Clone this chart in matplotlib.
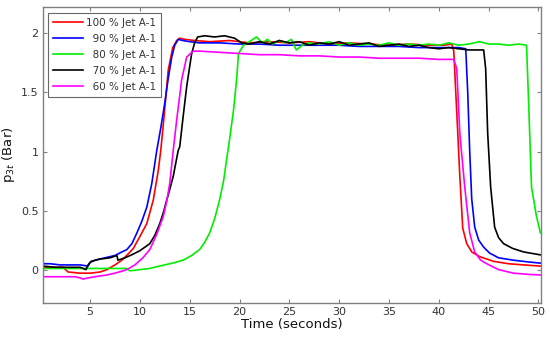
import matplotlib
matplotlib.use("Agg")
import matplotlib.pyplot as plt

# ---------------- data ----------------
labels = ["100 % Jet A-1", "90 % Jet A-1", "80 % Jet A-1", "70 % Jet A-1", "60 % Jet A-1"]
colors = ["#ff0000", "#0000ff", "#00ee00", "#000000", "#ff00ff"]

t_100 = [0.3, 1.5, 2.3, 2.8, 4.0, 5.0, 6.0, 6.7, 7.5, 8.2, 8.8, 9.35, 10.0, 10.7, 11.35, 11.85,
         12.1, 12.4, 12.85, 13.3, 13.7, 14.0, 14.5, 15.5, 17, 19, 21, 23, 25, 27, 29, 31, 33, 35,
         37, 39, 40.5, 41.3, 41.5, 41.7, 41.9, 42.1, 42.4, 42.8, 43.3, 44.1, 45.5, 47, 48.5, 50.2]
p_100 = [0.02, 0.02, 0.02, -0.02, -0.03, -0.03, -0.02, 0.0, 0.04, 0.08, 0.13, 0.18, 0.28, 0.39,
         0.59, 0.84, 1.01, 1.27, 1.69, 1.88, 1.94, 1.96, 1.95, 1.94, 1.93, 1.94, 1.92, 1.93, 1.92,
         1.93, 1.91, 1.92, 1.91, 1.90, 1.91, 1.90, 1.90, 1.91, 1.85, 1.50, 1.16, 0.80, 0.35, 0.22,
         0.15, 0.11, 0.07, 0.05, 0.04, 0.03]

t_90 = [0.3, 1.0, 2.0, 3.0, 4.0, 4.8, 5.0, 5.5, 6.5, 7.5, 8.2, 8.7, 9.2, 9.7, 10.2, 10.7, 11.2,
        11.7, 12.1, 12.5, 12.85, 13.2, 13.5, 13.85, 14.3, 15, 16, 18, 20, 22, 24, 26, 28, 30, 32,
        34, 36, 38, 40, 42, 42.7, 42.9, 43.1, 43.3, 43.6, 44.0, 44.5, 45.1, 46, 47.5, 49, 50.2]
p_90 = [0.05, 0.05, 0.04, 0.04, 0.04, 0.03, 0.06, 0.08, 0.10, 0.12, 0.15, 0.17, 0.22, 0.31, 0.41,
        0.53, 0.73, 1.01, 1.20, 1.41, 1.62, 1.80, 1.90, 1.95, 1.94, 1.93, 1.92, 1.92, 1.91, 1.91,
        1.90, 1.90, 1.90, 1.90, 1.89, 1.89, 1.89, 1.88, 1.88, 1.88, 1.87, 1.50, 1.00, 0.60, 0.36,
        0.25, 0.19, 0.14, 0.10, 0.08, 0.065, 0.055]

t_80 = [0.3, 2, 4, 6, 8, 8.7, 9.0, 10, 11, 11.7, 12.5, 13.5, 14.35, 15.2, 16, 16.5, 17, 17.5, 18,
        18.4, 18.7, 19.0, 19.4, 19.7, 19.9, 20.4, 21.0, 21.7, 22.3, 22.8, 23.3, 24, 24.6, 25.2,
        25.7, 26.3, 27, 28, 29, 30, 31, 32, 33, 34, 35, 36, 37, 38, 39, 40, 41, 42, 43, 44.1, 45,
        46, 47, 48, 48.8, 49.0, 49.3, 49.8, 50.2]
p_80 = [0.01, 0.01, 0.01, 0.01, 0.01, 0.01, -0.01, 0.0, 0.01, 0.025, 0.04, 0.06, 0.08, 0.12, 0.17,
        0.23, 0.31, 0.43, 0.59, 0.75, 0.93, 1.10, 1.35, 1.60, 1.83, 1.90, 1.93, 1.97, 1.92, 1.95,
        1.91, 1.94, 1.92, 1.95, 1.86, 1.90, 1.92, 1.91, 1.93, 1.90, 1.92, 1.90, 1.91, 1.90, 1.92,
        1.90, 1.91, 1.90, 1.91, 1.90, 1.92, 1.90, 1.91, 1.93, 1.91, 1.91, 1.90, 1.91, 1.90, 1.44,
        0.70, 0.45, 0.31]

t_70 = [0.3, 1.5, 3.0, 4.0, 4.6, 4.8, 5.1, 6.0, 7.0, 7.7, 7.8, 8.5, 9.3, 10.0, 10.5, 11.0, 11.5,
        12.0, 12.35, 12.7, 13.0, 13.35, 13.85, 14.0, 14.35, 14.7, 15.0, 15.2, 15.5, 15.8, 16.5,
        17.5, 18.5, 19.5, 20.2, 21, 22, 23, 24, 25, 26, 27, 28, 29, 30, 31, 32, 33, 34, 35, 36, 37,
        38, 39, 40, 41, 42, 43, 44, 44.5, 44.7, 44.9, 45.2, 45.6, 46.0, 46.5, 47.4, 48.5, 50.2]
p_70 = [0.03, 0.02, 0.02, 0.02, 0.0, 0.04, 0.07, 0.09, 0.10, 0.12, 0.08, 0.10, 0.13, 0.16, 0.19,
        0.22, 0.29, 0.39, 0.48, 0.59, 0.68, 0.79, 1.01, 1.04, 1.30, 1.55, 1.72, 1.83, 1.92, 1.97,
        1.98, 1.97, 1.98, 1.96, 1.92, 1.91, 1.93, 1.91, 1.94, 1.92, 1.93, 1.90, 1.92, 1.91, 1.93,
        1.90, 1.91, 1.92, 1.89, 1.90, 1.91, 1.89, 1.90, 1.88, 1.87, 1.88, 1.87, 1.86, 1.86, 1.86,
        1.70, 1.16, 0.70, 0.36, 0.27, 0.22, 0.18, 0.15, 0.125]

t_60 = [0.3, 1.5, 2.5, 3.5, 4.0, 4.3, 4.8, 5.5, 6.7, 7.5, 8.7, 9.5, 10.3, 11.0, 11.7, 12.35, 12.7,
        13.0, 13.35, 13.7, 14.2, 14.7, 15.35, 16, 18, 20, 22, 24, 26, 28, 30, 32, 34, 36, 38, 40,
        41.5, 41.8, 42.1, 42.6, 43.1, 43.6, 44.2, 44.8, 46, 47.5, 49, 50.2]
p_60 = [-0.06, -0.06, -0.06, -0.06, -0.07, -0.08, -0.07, -0.06, -0.045, -0.03, 0.0, 0.04, 0.10,
        0.17, 0.30, 0.45, 0.58, 0.73, 1.01, 1.27, 1.61, 1.80, 1.85, 1.85, 1.84, 1.83, 1.82, 1.82,
        1.81, 1.81, 1.80, 1.80, 1.79, 1.79, 1.79, 1.78, 1.78, 1.70, 1.16, 0.70, 0.31, 0.15, 0.08,
        0.05, 0.0, -0.03, -0.04, -0.045]

x_ticks = [5, 10, 15, 20, 25, 30, 35, 40, 45, 50]
y_ticks = [0, 0.5, 1, 1.5, 2]

# ---------------- figure ----------------
fig = plt.figure(figsize=(5.5, 3.38), dpi=100)
ax = fig.add_axes([0.0776, 0.1044, 0.906, 0.8736])

series = [(t_100, p_100), (t_90, p_90), (t_80, p_80), (t_70, p_70), (t_60, p_60)]
pad = ["", "\u2007", "\u2007", "\u2007", "\u2007"]
for (t, p), c, lab, pd in zip(series, colors, labels, pad):
    ax.plot(t, p, color=c, lw=1.2, label=pd + lab)

ax.set_xlim(0.25, 50.25)
ax.set_ylim(-0.28, 2.22)
ax.set_xticks(x_ticks)
ax.set_yticks(y_ticks)
ax.set_xticklabels([str(v) for v in x_ticks])
ax.set_yticklabels(["0", "0.5", "1", "1.5", "2"])

spine_c = "#808080"
for s in ax.spines.values():
    s.set_color(spine_c)
    s.set_linewidth(1.0)
ax.tick_params(direction="in", top=True, right=True, length=3, width=0.8,
               color=spine_c, labelsize=8, labelcolor="#333333", pad=3)

ax.set_xlabel("Time (seconds)", fontsize=9.5, labelpad=0.5, color="#111111")
ax.set_ylabel("p$_{3t}$ (Bar)", fontsize=9.5, labelpad=3, color="#111111")

leg = ax.legend(loc="upper left", fontsize=7.5, frameon=True, fancybox=False,
                handlelength=2.9, handletextpad=0.25, borderpad=0.5, labelspacing=0.58,
                borderaxespad=0.5)
leg.get_frame().set_edgecolor("#444444")
leg.get_frame().set_linewidth(0.8)
for tx in leg.get_texts():
    tx.set_color("#333333")

fig.savefig("out.png", dpi=100)
